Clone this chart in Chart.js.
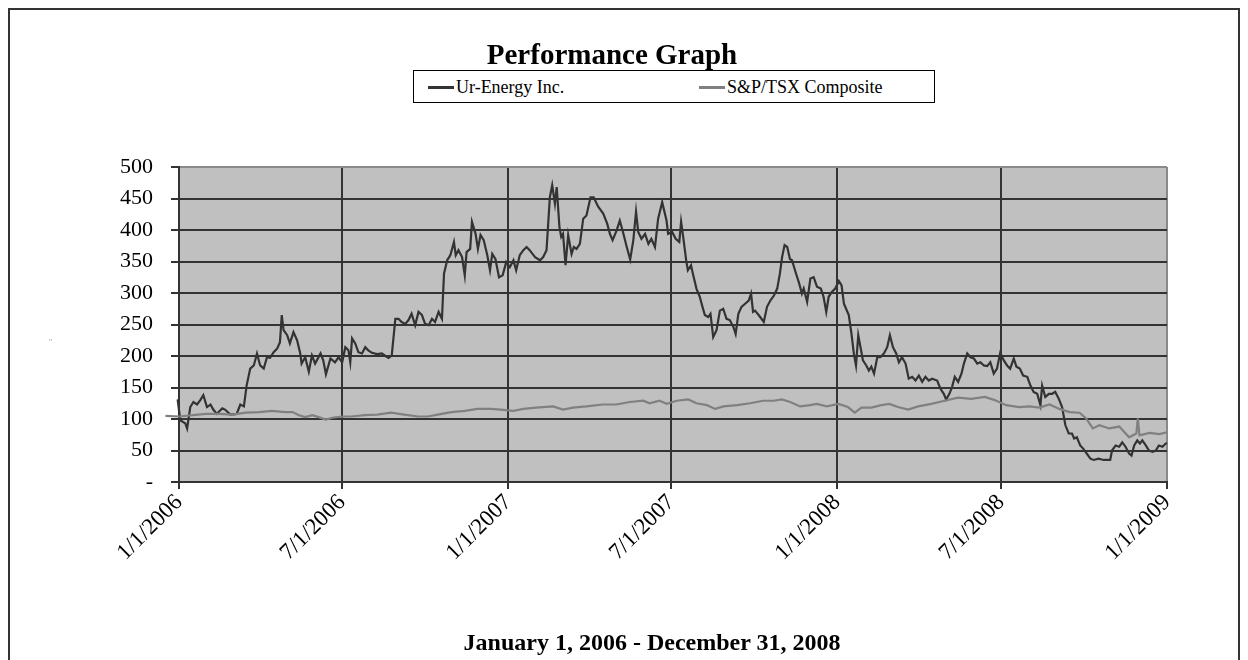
<!DOCTYPE html>
<html>
<head>
<meta charset="utf-8">
<script src="https://cdn.jsdelivr.net/npm/chart.js@4.4.1/dist/chart.umd.min.js"></script>
<style>
  html, body { margin: 0; padding: 0; background: #fff; }
  #wrap { position: relative; width: 1248px; height: 660px; overflow: hidden; font-family: 'Liberation Serif', 'Times New Roman', serif; }
  #frame { position: absolute; left: 8px; top: 8px; width: 1232px; height: 700px; border: 2px solid #333; box-sizing: border-box; }
  #chart { position: absolute; left: 0; top: 0; }
  #title { position: absolute; left: 0; width: 1224px; top: 38px; text-align: center; font-weight: bold; font-size: 29px; }
  #legend { position: absolute; left: 413px; top: 70px; width: 522px; height: 33px; border: 1.5px solid #000; box-sizing: border-box; background: #fff; font-size: 18px; }
  .item { display: flex; align-items: center; position: absolute; top: 6px; }
  .swatch { width: 26px; height: 3px; margin-right: 2px; }
  #footer { position: absolute; left: 0; width: 1304px; top: 629px; text-align: center; font-weight: bold; font-size: 24px; }
  #speck { position: absolute; left: 49px; top: 338px; font-size: 8px; color: #999; }
</style>
</head>
<body>
<div id="wrap">
  <div id="frame"></div>
  <canvas id="chart" width="1248" height="660"></canvas>
  <div id="title">Performance Graph</div>
  <div id="legend">
    <div class="item" style="left:14px"><span class="swatch" style="background:#333"></span>Ur-Energy Inc.</div>
    <div class="item" style="left:285px"><span class="swatch" style="background:#808080"></span>S&amp;P/TSX Composite</div>
  </div>
  <div id="speck">''</div>
  <div id="footer">January 1, 2006 - December 31, 2008</div>
</div>
<script>
/* ── DATA ─────────────────────────────────────────────── */
// x = days since 1/1/2006
const tickDays   = [0, 181, 365, 546, 730, 912, 1096];
const tickLabels = ['1/1/2006', '7/1/2006', '1/1/2007', '7/1/2007', '1/1/2008', '7/1/2008', '1/1/2009'];

const urDays = [
  -30, -24, -21, -13, -11.5, -6, -1.5, 1.4, 7, 9, 12.5, 16, 20, 23.6, 27, 31, 35, 38, 42, 48, 51, 57, 64, 68, 72,
  75, 79, 83, 86.5, 90, 94, 97.6, 101, 105, 109, 112, 114, 116, 120, 123, 127, 131, 134.5, 136, 140, 144, 147.5,
  151, 157, 160, 163, 168, 173, 177, 181, 184.5, 188, 190, 192, 195.5, 199, 203, 206.6, 210, 214, 219.6, 225, 229,
  232.5, 236, 240, 243.5, 247, 251, 254.6, 258, 262, 265.7, 269.5, 273, 277, 280.6, 284, 288, 291.7, 294, 297.5,
  301, 305, 307, 310, 314, 317, 319, 323, 325, 329, 331.6, 334.5, 338, 342, 345, 347.5, 351, 355, 359, 363, 367,
  371, 374, 378, 382, 385.6, 389, 395, 400.5, 404, 407.7, 411.4, 414, 417, 419, 422, 424, 426, 428.8, 431.7, 435.5,
  438, 441, 444.7, 448.4, 452, 456.5, 460, 465, 470.6, 475, 478, 481, 485.4, 489, 493, 496.7, 500.5, 504, 507,
  509.4, 513, 517, 520.7, 524, 528, 531.5, 536, 540.8, 542.6, 547, 551, 555, 557, 559.6, 562.6, 564.5, 568, 570,
  574, 577.7, 580.7, 583.3, 587, 589.6, 592.6, 596.3, 600, 603.7, 607.4, 611, 615, 617.5, 620.5, 624, 628, 632,
  634.6, 636.8, 639, 643, 648.7, 652.3, 656, 660, 663.6, 666.6, 669, 671.8, 674.7, 677.7, 680, 684, 687.6, 691,
  693, 696.8, 700.4, 704, 707.7, 712, 715, 718, 720.7, 724.4, 728, 732, 735, 737.6, 740, 743, 746, 748.6, 751,
  753.5, 756, 758.7, 762.4, 765.3, 768, 771, 774.6, 778, 782, 785.6, 788.6, 792, 795.6, 798.6, 802, 806, 809.5,
  813.3, 817, 820.7, 824.4, 828, 831.7, 835.4, 841, 844.7, 848.4, 851, 854.6, 857.6, 860.6, 864.3, 868, 870.7,
  874.4, 878, 881.8, 885.5, 889, 892.8, 896.5, 900, 903.8, 907.4, 911, 915, 918.6, 922, 926, 929, 932.7, 936.4,
  941, 944.5, 948, 952, 955.6, 957.5, 961, 965, 968.6, 972, 976, 979.6, 983.3, 987, 990.6, 993, 996, 999.7, 1003,
  1007, 1011, 1014.6, 1020, 1025.8, 1033, 1035, 1039, 1043, 1046.4, 1050, 1054, 1056.6, 1059.6, 1063, 1066,
  1068.6, 1072.5, 1076, 1080, 1083.5, 1087, 1091, 1094.5, 1096
];
const urValues = [
  106, 103, 95, 95, 123, 124, 131, 98, 93, 85, 119, 127, 123, 130, 138, 119, 123, 115, 108, 117, 115, 107, 108, 123, 120,
  153, 180, 185, 204, 185, 180, 198, 197, 206, 212, 222, 265, 241, 233, 220, 238, 225, 204, 188, 198, 175, 201,
  188, 204, 193, 171, 196, 190, 198, 190, 214, 209, 190, 228, 220, 206, 204, 214, 209, 205, 203, 204, 200,
  197, 201, 259, 259, 254, 251, 257, 267, 249, 270, 265, 251, 249, 259, 254, 270, 259, 331, 352,
  360, 381, 360, 368, 357, 328, 365, 370, 413, 394, 370, 392, 384, 360, 336, 362, 354, 325, 328, 349, 341,
  352, 336, 360, 368, 373, 368, 357, 352, 357, 368, 452, 471, 442, 468, 405, 389, 394, 344, 392, 362,
  373, 370, 378, 418, 423, 452, 452, 437, 426, 410, 394, 384, 399, 415, 394, 373, 353, 384, 429,
  397, 386, 394, 378, 386, 373, 418, 444, 415, 394, 397, 386, 381, 413, 386, 352, 336, 344, 331,
  307, 294, 278, 265, 262, 267, 230, 241, 272, 275, 259, 257, 246, 235, 267, 278, 283, 288,
  299, 270, 272, 265, 254, 278, 288, 296, 307, 331, 357, 376, 373, 354, 352, 333, 317, 299,
  307, 286, 323, 325, 310, 307, 294, 270, 294, 302, 307, 319, 312, 283, 275, 265, 235, 204, 185,
  233, 214, 193, 185, 177, 183, 172, 198, 198, 204, 214, 233, 214, 204, 190, 198, 188, 164,
  167, 161, 169, 159, 167, 161, 164, 161, 148, 140, 131, 140, 151, 167, 159, 172, 188,
  204, 198, 196, 188, 190, 185, 184, 190, 172, 180, 205, 193, 185, 180, 196, 183, 180, 169,
  167, 153, 143, 140, 122, 153, 135, 140, 140, 143, 132, 119, 90, 77, 77, 69, 71, 58, 53,
  45, 37, 35, 37, 35, 35, 50, 58, 56, 63, 56, 45, 42, 58, 66, 61,
  66, 58, 50, 48, 50, 58, 56, 61, 62
];

const tsxDays = [
  -30, -15, 0, 15, 30, 45, 59, 74, 89, 103, 118, 126, 133, 140, 148, 155, 162.7, 170, 181, 191, 206, 220, 235, 250,
  265, 276, 287, 302, 317, 331, 346, 357, 371, 382, 396, 415, 426, 437, 452, 470, 485, 500, 515, 522, 533, 541, 552,
  565, 574, 585.6, 594.8, 604, 619, 633.6, 648, 659.5, 668.7, 678, 689, 700, 707.5, 718.6, 731.6, 742, 749.6, 757,
  768, 779, 788, 797.6, 808.7, 820, 834.6, 849.4, 864, 879, 894, 904.9, 917.5, 932, 943.5, 954.5, 965.6, 976.7,
  987.8, 999, 1006.3, 1013.7, 1021, 1032, 1043, 1054, 1062, 1063.6, 1065.5, 1076.6, 1087.7, 1096
];
const tsxValues = [
  106, 105, 104, 106, 108, 108, 107, 110, 111, 113, 111, 111, 106, 103, 106, 103, 99, 102, 104, 104, 106, 107, 110, 107,
  104, 104, 107, 111, 113, 116, 116, 115, 113, 116, 118, 120, 115, 118, 120, 123, 123, 127, 129, 125, 129, 124, 129,
  131, 125, 122, 116, 120, 122, 125, 129, 129, 131, 127, 120, 122, 124, 120, 124, 119, 110, 118,
  118, 122, 124, 119, 115, 120, 124, 129, 134, 132, 135, 130, 122, 119, 120, 118, 123, 116,
  111, 110, 101, 85, 90, 85, 88, 71, 77, 101, 74, 78, 76, 79
];

const toPoints = (xs, ys) => xs.map((x, i) => ({ x, y: ys[i] }));

/* ── PLOT BACKGROUND ──────────────────────────────────── */
const plotBg = {
  id: 'plotBg',
  beforeDraw(chart) {
    const { ctx, chartArea: a } = chart;
    ctx.save();
    ctx.fillStyle = '#c0c0c0';
    ctx.fillRect(a.left, a.top, a.right - a.left, a.bottom - a.top);
    ctx.restore();
  }
};

const SERIF = "'Liberation Serif', 'Times New Roman', serif";

new Chart(document.getElementById('chart'), {
  type: 'line',
  data: {
    datasets: [
      {
        label: 'S&P/TSX Composite',
        data: toPoints(tsxDays, tsxValues),
        borderColor: '#808080',
        borderWidth: 2.2,
        pointRadius: 0,
        tension: 0,
        clip: false
      },
      {
        label: 'Ur-Energy Inc.',
        data: toPoints(urDays, urValues),
        borderColor: '#333333',
        borderWidth: 2.2,
        pointRadius: 0,
        tension: 0,
        clip: false
      }
    ]
  },
  options: {
    responsive: false,
    devicePixelRatio: 1,
    animation: false,
    layout: { padding: { top: 167, right: 81, left: 0, bottom: 0 } },
    plugins: { legend: { display: false }, title: { display: false }, tooltip: { enabled: false } },
    scales: {
      x: {
        type: 'linear',
        min: 0,
        max: 1096,
        afterBuildTicks: axis => { axis.ticks = tickDays.map(v => ({ value: v })); },
        afterFit: axis => { axis.height = 178; },
        grid: {
          color: c => c.index === tickDays.length - 1 ? '#8a8a8a' : '#333',
          tickColor: '#333',
          lineWidth: 2,
          tickLength: 7
        },
        border: { color: '#333', width: 2 },
        ticks: {
          autoSkip: false,
          maxRotation: 45,
          minRotation: 45,
          padding: 0,
          color: '#000',
          font: { family: SERIF, size: 23 },
          callback: v => tickLabels[tickDays.indexOf(v)]
        }
      },
      y: {
        min: 0,
        max: 500,
        afterFit: axis => { axis.width = 179; },
        grid: {
          color: c => c.tick.value === 500 ? '#8a8a8a' : '#333',
          tickColor: '#333',
          lineWidth: 2,
          tickLength: 8
        },
        border: { color: '#333', width: 2 },
        ticks: {
          stepSize: 50,
          padding: 18,
          color: '#000',
          font: { family: SERIF, size: 22 },
          callback: v => v === 0 ? '-' : v
        }
      }
    }
  },
  plugins: [plotBg]
});
</script>
</body>
</html>
